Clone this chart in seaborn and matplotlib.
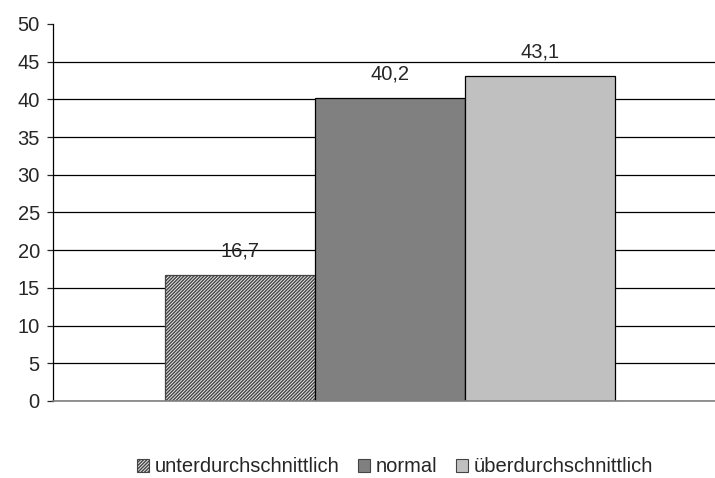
import matplotlib
matplotlib.use("Agg")
import matplotlib.pyplot as plt
import seaborn as sns
import pandas as pd
from matplotlib.patches import Patch

categories = ["unterdurchschnittlich", "normal", "überdurchschnittlich"]
values = [16.7, 40.2, 43.1]
value_labels = ["16,7", "40,2", "43,1"]
colors = ["#e8e8e8", "#808080", "#c0c0c0"]
hatches = ["//////////", "", ""]

df = pd.DataFrame({"Kategorie": categories, "Wert": values})

sns.set_style("white")
plt.rcParams["font.family"] = ["Liberation Sans", "DejaVu Sans"]
plt.rcParams["hatch.linewidth"] = 1.0

fig = plt.figure(figsize=(7.15, 4.78), dpi=100)
ax = fig.add_axes([53 / 715, 77 / 478, 662 / 715, 377 / 478])

sns.barplot(data=df, x="Kategorie", y="Wert", hue="Kategorie",
            palette=colors, width=1.0, dodge=False, legend=False, ax=ax)

for bar, h in zip(ax.patches, hatches):
    bar.set_edgecolor("black")
    bar.set_linewidth(0.9)
    if h:
        bar.set_hatch(h)
        bar.set_edgecolor("#444444")

for i, (v, lab) in enumerate(zip(values, value_labels)):
    ax.annotate(lab, (i, v), xytext=(0, 17), textcoords="offset points",
                ha="center", va="center", fontsize=14.5)

ax.set_xlim(-1.2467, 3.1667)
ax.set_ylim(0, 50)
ax.set_yticks(range(0, 51, 5))
ax.yaxis.grid(True, color="black", linewidth=0.9)
ax.yaxis.get_gridlines()[-1].set_visible(False)
ax.set_axisbelow(True)
ax.set_xticks([])
ax.set_xlabel("")
ax.set_ylabel("")
ax.tick_params(axis="y", left=True, length=4.5, width=0.9, pad=5, labelsize=14.5)
for s in ["top", "right"]:
    ax.spines[s].set_visible(False)
ax.spines["left"].set_color("black")
ax.spines["left"].set_linewidth(0.9)
ax.spines["bottom"].set_color("#808080")
ax.spines["bottom"].set_linewidth(1.2)

handles = [Patch(facecolor=c, edgecolor="#444444", hatch=h, linewidth=0.8)
           for c, h in zip(colors, hatches)]
fig.legend(handles, categories, loc="center", bbox_to_anchor=(395 / 715, 1 - 467 / 478),
           ncol=3, frameon=False, fontsize=14.5, handlelength=0.6, handleheight=0.6,
           handletextpad=0.3, columnspacing=0.9)

fig.savefig("out.png", dpi=100)
